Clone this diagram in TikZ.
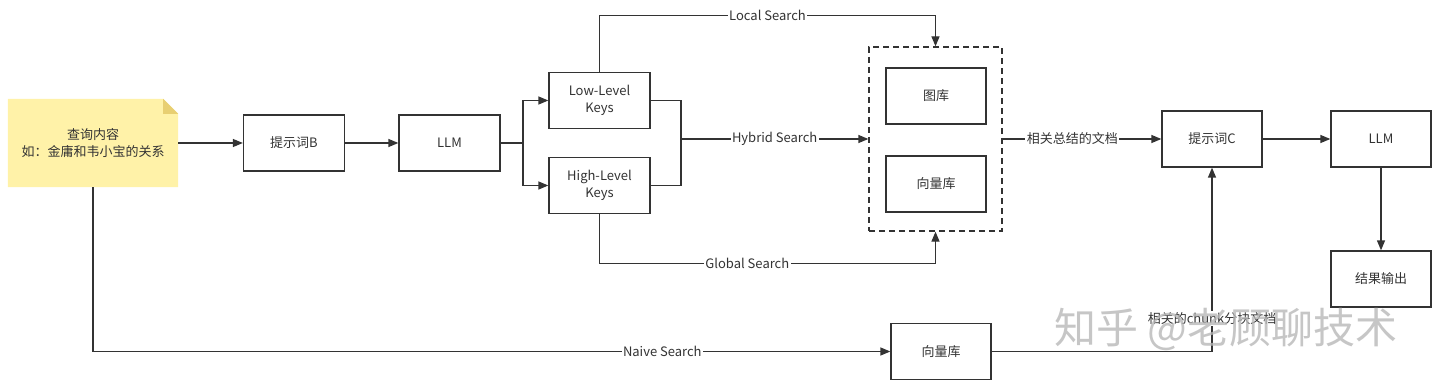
\documentclass[tikz,border=0pt]{standalone}
\usepackage{fontspec}
\setmainfont{Noto Sans CJK SC}
\usetikzlibrary{arrows.meta,backgrounds}
\definecolor{linec}{HTML}{333333}
\definecolor{textc}{HTML}{333333}
\definecolor{notefill}{HTML}{FFF2A8}
\definecolor{foldc}{HTML}{E8CF72}
\definecolor{wmark}{HTML}{B8B8B8}
\begin{document}
\begin{tikzpicture}[x=1pt,y=-1pt,
  txt/.style={font=\fontsize{13}{17}\selectfont, text=textc},
  box/.style={txt, draw=linec, line width=1.3pt, minimum width=101pt, minimum height=56pt, inner sep=0pt, align=center},
  dbox/.style={draw=linec, line width=1.3pt, dash pattern=on 6pt off 4pt, minimum width=133pt, minimum height=184pt, inner sep=0pt},
  conn/.style={draw=linec, line width=1.3pt, -{Triangle[length=10pt,width=8pt]}},
  plain/.style={draw=linec, line width=1.3pt},
  lbl/.style={txt, fill=white, inner sep=1.5pt},
]
\useasboundingbox (0,0) rectangle (1440,390);

% note
\node[txt, minimum width=170pt, minimum height=88pt, inner sep=0pt, align=center] (q) at (93,143) {查询内容\\如：金庸和韦小宝的关系};
\begin{scope}[on background layer]
  \fill[notefill] (q.north west) -- ([xshift=-15pt]q.north east) -- ([yshift=-15pt]q.north east) -- (q.south east) -- (q.south west) -- cycle;
  \fill[foldc] ([xshift=-15pt]q.north east) -- ([xshift=-15pt,yshift=-15pt]q.north east) -- ([yshift=-15pt]q.north east) -- cycle;
\end{scope}

% boxes
\node[box] (pb) at (294,143) {提示词B};
\node[box] (llm1) at (449.5,143) {LLM};
\node[box] (low) at (599.5,100.5) {Low-Level\\Keys};
\node[box] (high) at (599.5,185.5) {High-Level\\Keys};
\node[dbox] (db) at (935.5,139) {};
\node[box, minimum width=100pt] (gk) at (936,96) {图库};
\node[box, minimum width=100pt] (vk1) at (936,184) {向量库};
\node[box, minimum width=100pt] (pc) at (1212,139) {提示词C};
\node[box, minimum width=100pt] (llm2) at (1381,139) {LLM};
\node[box, minimum width=100pt] (out) at (1381,279) {结果输出};
\node[box, minimum width=100pt] (vk2) at (941,351.5) {向量库};

% connectors
\coordinate (s) at (523,143);
\coordinate (m) at (681,139);
\draw[conn] (q.east) -- (pb.west);
\draw[conn] (pb.east) -- (llm1.west);
\draw[plain] (llm1.east) -- (s);
\draw[conn] (s) |- (low.west);
\draw[conn] (s) |- (high.west);
\draw[plain] (low.east) -| (m);
\draw[plain] (high.east) -| (m);
\draw[conn] (m) -- node[lbl] {Hybrid Search} (db.west);
\draw[conn] (low.north) -- ++(0,-56.5) -| node[lbl, pos=0.25] {Local Search} (db.north);
\draw[conn] (high.south) -- ++(0,49.5) -| node[lbl, pos=0.22] {Global Search} (db.south);
\draw[conn] (db.east) -- node[lbl, pos=0.44] {相关总结的文档} (pc.west);
\draw[conn] (pc.east) -- (llm2.west);
\draw[conn] (llm2.south) -- (out.north);
\draw[conn] (q.south) |- node[lbl, pos=0.857] {Naive Search} (vk2.west);
\draw[conn] (vk2.east) -| node[lbl, pos=0.59] {相关的chunk分块文档} (pc.south);

% watermark
\node[font=\fontsize{42}{46}\selectfont, text=wmark, text opacity=0.8, inner sep=0pt] (wm) at (1226,329) {知乎 @老顾聊技术};
\end{tikzpicture}
\end{document}
